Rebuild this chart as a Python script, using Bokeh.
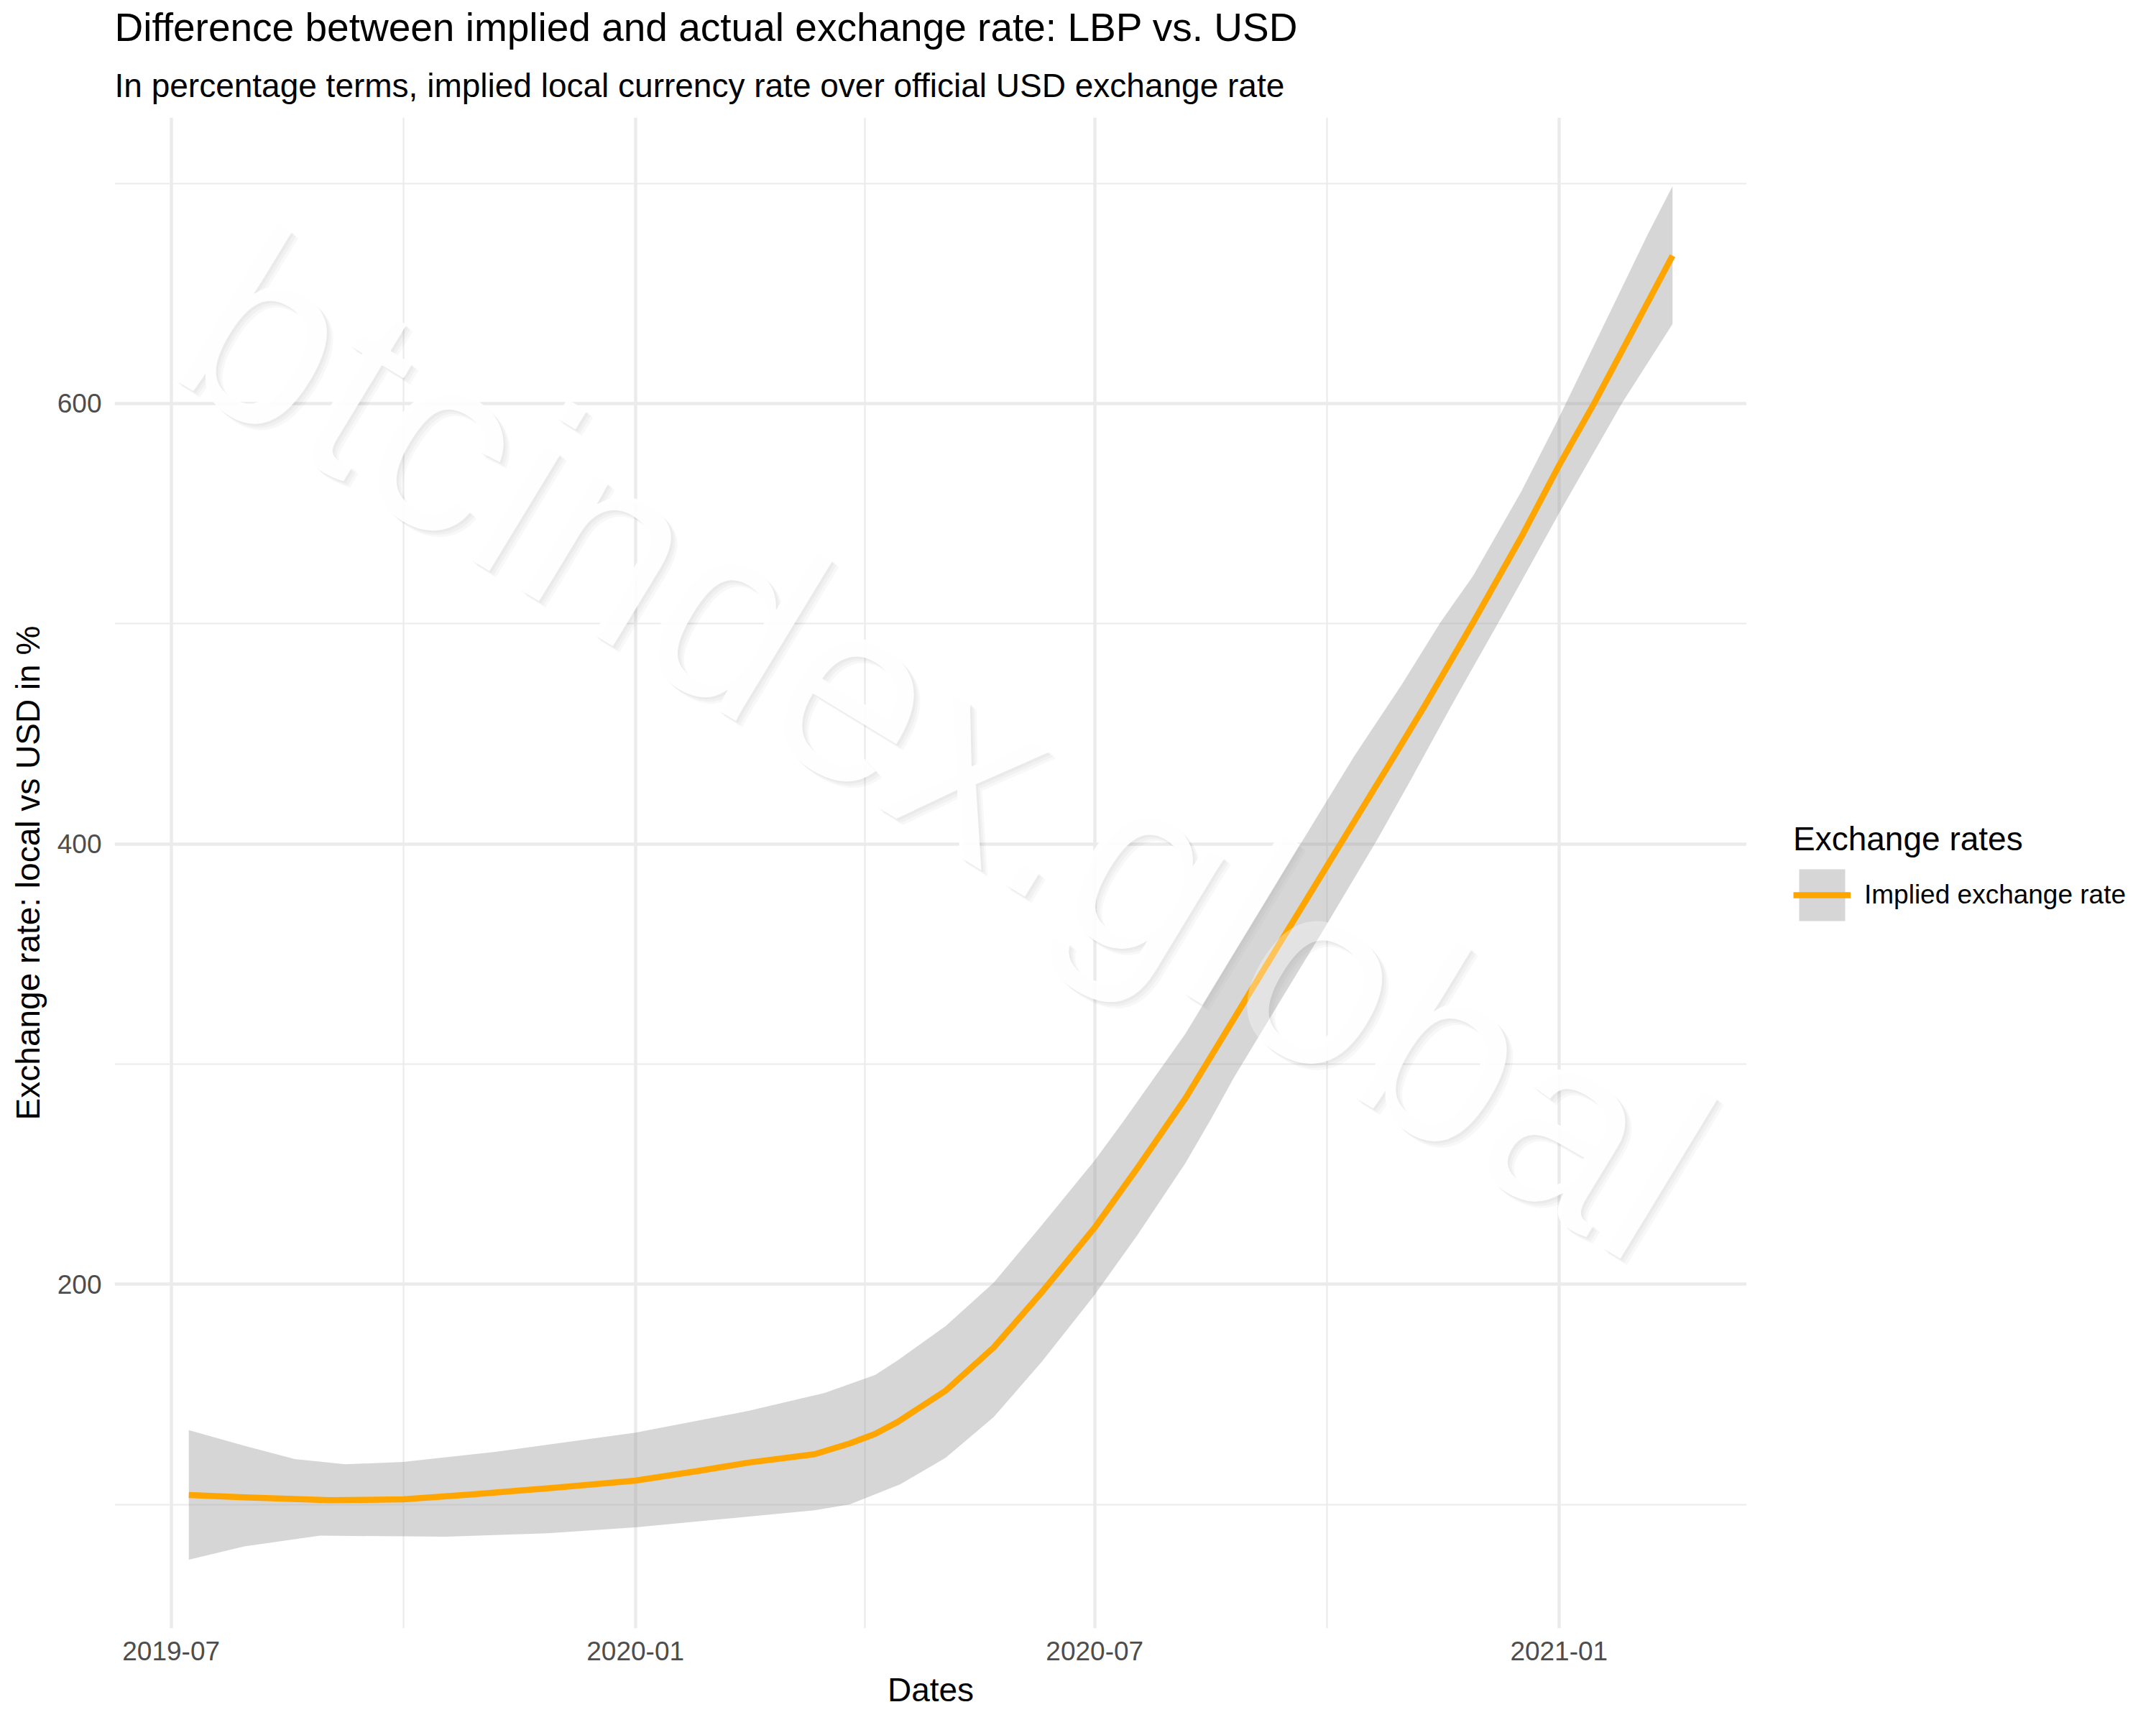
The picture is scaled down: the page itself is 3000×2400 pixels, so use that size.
import pandas as pd
from bokeh.plotting import figure
from bokeh.layouts import row
from bokeh.models import (Range1d, FixedTicker, DatetimeTickFormatter, Legend,
                          LegendItem, Title, Label)
from bokeh.embed import file_html
from bokeh.resources import INLINE

# ---------------- data ----------------
line_dates = ["2019-07-08", "2019-07-30", "2019-09-02", "2019-10-01", "2019-10-28",
              "2019-11-27", "2020-01-01", "2020-01-26", "2020-02-15", "2020-03-12",
              "2020-03-26", "2020-04-05", "2020-04-14", "2020-05-03", "2020-05-22",
              "2020-06-10", "2020-07-01", "2020-07-18", "2020-08-06", "2020-08-25",
              "2020-09-13", "2020-10-01", "2020-10-27", "2020-11-09", "2020-11-28",
              "2020-12-17", "2021-01-01", "2021-01-15", "2021-02-15"]
line_values = [104.3, 103.2, 101.9, 102.3, 104.5,
               107.3, 110.8, 115.2, 119.0, 122.8,
               127.7, 132.0, 137.5, 151.7, 171.3,
               196.3, 225.7, 252.9, 284.5, 320.2,
               356.1, 389.8, 438.5, 463.1, 500.6,
               539.2, 571.8, 600.2, 667.1]

upper_dates = ["2019-07-08", "2019-07-30", "2019-08-19", "2019-09-08", "2019-10-01",
               "2019-11-07", "2020-01-01", "2020-02-15", "2020-03-16", "2020-04-05",
               "2020-04-14", "2020-05-03", "2020-05-22", "2020-06-10", "2020-07-01",
               "2020-07-13", "2020-08-06", "2020-08-25", "2020-09-13", "2020-10-01",
               "2020-10-12", "2020-10-31", "2020-11-15", "2020-11-28", "2020-12-17",
               "2021-01-01", "2021-02-05", "2021-02-15"]
upper_values = [133.7, 126.6, 120.6, 118.2, 119.3,
                123.9, 132.6, 142.5, 150.6, 158.8,
                165.5, 181.1, 200.7, 226.8, 256.2,
                275.0, 313.8, 349.8, 385.7, 419.5,
                440.1, 472.9, 500.6, 521.8, 559.9,
                593.6, 676.4, 698.7]

lower_dates = ["2019-07-08", "2019-07-30", "2019-08-29", "2019-10-18", "2019-11-27",
               "2020-01-01", "2020-02-15", "2020-03-12", "2020-03-26", "2020-04-15",
               "2020-05-03", "2020-05-22", "2020-06-10", "2020-07-01", "2020-07-18",
               "2020-08-06", "2020-08-16", "2020-08-25", "2020-09-13", "2020-10-01",
               "2020-10-21", "2020-11-03", "2020-11-19", "2020-12-08", "2020-12-17",
               "2021-01-01", "2021-01-26", "2021-02-15"]
lower_values = [74.9, 80.9, 85.8, 85.3, 86.9,
                89.6, 94.5, 97.3, 100.0, 109.2,
                121.2, 139.7, 164.7, 195.2, 222.4,
                255.1, 274.8, 293.5, 329.5, 363.5,
                402.0, 428.5, 462.0, 500.6, 519.0,
                550.1, 600.2, 636.1]

x_major_ticks = ["2019-07-01", "2020-01-01", "2020-07-01", "2021-01-01"]
x_minor_ticks = ["2019-10-01", "2020-04-01", "2020-10-01"]
y_major_ticks = [200, 400, 600]
y_minor_ticks = [100, 300, 500, 700]

title_text = "Difference between implied and actual exchange rate: LBP vs. USD"
subtitle_text = "In percentage terms, implied local currency rate over official USD exchange rate"
x_title = "Dates"
y_title = "Exchange rate: local vs USD in %"
legend_title = "Exchange rates"
series_name = "Implied exchange rate"
watermark_text = "btcindex.global"
watermark_at = ("2020-05-02 10:00", 446.0)

FONT = "Liberation Sans"
BAND = dict(fill_color="#999999", fill_alpha=0.4, line_color=None)
LINE = dict(line_color="#FFA500", line_width=8.5, line_join="round")


def to_ms(dates):
    s = pd.to_datetime(pd.Series(dates))
    return list((s - pd.Timestamp("1970-01-01")) // pd.Timedelta(milliseconds=1))


line_x = to_ms(line_dates)
upper_x = to_ms(upper_dates)
lower_x = to_ms(lower_dates)
band_x = upper_x + lower_x[::-1]
band_y = upper_values + lower_values[::-1]

# ggplot-like 5% expansion of the data range
all_x = upper_x + lower_x + line_x
all_y = upper_values + lower_values + line_values
xspan = max(all_x) - min(all_x)
yspan = max(all_y) - min(all_y)
x_range = Range1d(min(all_x) - 0.05 * xspan, max(all_x) + 0.05 * xspan)
y_range = Range1d(min(all_y) - 0.05 * yspan, max(all_y) + 0.05 * yspan)

# ---------------- main panel ----------------
p = figure(width=2430, height=2384, x_axis_type="datetime",
           x_range=x_range, y_range=y_range,
           output_backend="svg", toolbar_location=None,
           min_border_left=159, min_border_right=0,
           min_border_top=163, min_border_bottom=119)
p.outline_line_color = None
p.background_fill_color = "white"
p.border_fill_color = "white"

# titles
p.title.text = title_text
p.title.text_font = FONT
p.title.text_font_size = "55px"
p.title.text_font_style = "normal"
p.title.text_color = "black"
p.title.align = "left"
p.title.offset = 0
p.title.standoff = 6
sub = Title(text=subtitle_text, text_font=FONT, text_font_size="46px",
            text_font_style="normal", text_color="black", align="left",
            offset=0, standoff=38)
p.add_layout(sub, "above")

# axes
for ax in (p.xaxis[0], p.yaxis[0]):
    ax.axis_line_color = None
    ax.major_tick_line_color = None
    ax.minor_tick_line_color = None
    ax.major_label_text_font = FONT
    ax.major_label_text_font_size = "37px"
    ax.major_label_text_color = "#4D4D4D"
    ax.axis_label_text_font = FONT
    ax.axis_label_text_font_size = "46px"
    ax.axis_label_text_font_style = "normal"
    ax.axis_label_text_color = "black"

p.xaxis.axis_label = x_title
p.yaxis.axis_label = y_title
p.xaxis.major_label_standoff = 12
p.yaxis.major_label_standoff = 12
p.xaxis.axis_label_standoff = 12
p.yaxis.axis_label_standoff = 12

p.xaxis.ticker = FixedTicker(ticks=to_ms(x_major_ticks), minor_ticks=to_ms(x_minor_ticks))
p.yaxis.ticker = FixedTicker(ticks=y_major_ticks, minor_ticks=y_minor_ticks)
fmt = "%Y-%m"
p.xaxis.formatter = DatetimeTickFormatter(years=fmt, months=fmt, days=fmt, hours=fmt,
                                          minutes=fmt, seconds=fmt, minsec=fmt,
                                          hourmin=fmt, milliseconds=fmt,
                                          microseconds=fmt)

for g in (p.xgrid[0], p.ygrid[0]):
    g.grid_line_color = "#EBEBEB"
    g.grid_line_width = 4.4
    g.minor_grid_line_color = "#EBEBEB"
    g.minor_grid_line_width = 2.2

# watermark base: soft shadow + white letters, below the data
wm_x = to_ms([watermark_at[0]])[0]
wm_common = dict(x=wm_x, y=watermark_at[1], text=watermark_text,
                 angle=-31.3, angle_units="deg", text_font=FONT,
                 text_font_size="360px", text_align="center",
                 text_baseline="alphabetic")
for d in (3, 6, 9):
    p.add_layout(Label(**wm_common, text_color="black", text_alpha=0.028,
                       x_offset=d, y_offset=-d, level="underlay"))
p.add_layout(Label(**wm_common, text_color="white", text_alpha=0.9,
                   level="underlay"))

# confidence band and smoothed line
band = p.patch(band_x, band_y, **BAND)
line = p.line(line_x, line_values, **LINE)

# watermark veil over the data
p.add_layout(Label(**wm_common, text_color="white", text_alpha=0.35))

# ---------------- legend panel (right) ----------------
# same series drawn with the same styles; the view range keeps them out of sight,
# they only provide the legend keys
pl = figure(width=554, height=2384, x_range=(0, 1), y_range=(0, 1),
            output_backend="svg", toolbar_location=None, min_border=0,
            x_axis_location=None, y_axis_location=None)
pl.grid.visible = False
pl.outline_line_color = None
pl.background_fill_color = "white"
pl.border_fill_color = "white"
key_band = pl.patch(band_x, band_y, **BAND)
key_line = pl.line(line_x, line_values, **LINE)

legend = Legend(items=[LegendItem(label=series_name, renderers=[key_band, key_line])],
                location=(65, 975), title=legend_title,
                title_text_font=FONT, title_text_font_size="46px",
                title_text_font_style="normal", title_text_color="black",
                title_standoff=6,
                label_text_font=FONT, label_text_font_size="37px",
                label_text_color="black", label_standoff=19,
                glyph_width=80, glyph_height=90, spacing=0,
                padding=0, margin=0, border_line_color=None,
                background_fill_alpha=0)
pl.add_layout(legend)

layout = row(p, pl)
open("out.html", "w").write(file_html(layout, INLINE))
